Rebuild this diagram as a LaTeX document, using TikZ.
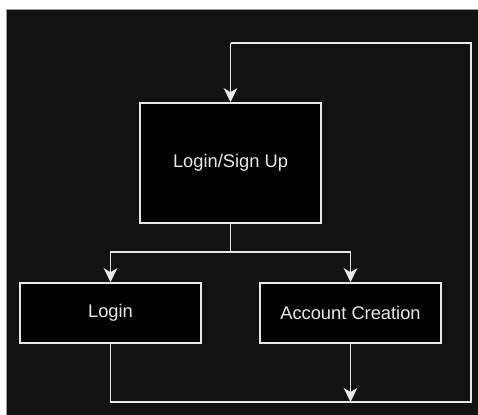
\documentclass[tikz,border=0pt]{standalone}
\usepackage{fontspec}
\setmainfont{Liberation Sans}
\usetikzlibrary{arrows.meta}
\definecolor{canvas}{HTML}{121212}
\definecolor{frame}{HTML}{9A9A9A}
\definecolor{ink}{HTML}{E8E8E8}
\tikzset{
  box/.style={draw=ink, fill=black, line width=1.6pt, minimum width=181pt,
    inner sep=0pt, text=ink, font=\fontsize{18.3}{21}\selectfont},
  conn/.style={draw=ink, line width=1.6pt},
  arr/.style={conn, -{Stealth[length=14pt, width=13.5pt, inset=4pt]}}
}
\begin{document}
\begin{tikzpicture}[x=1pt,y=-1pt]
  \useasboundingbox (0,0) rectangle (478,414);
  \fill[white] (0,0) rectangle (478,414);
  \draw[fill=canvas, draw=frame, line width=1pt] (6.5,9.5) rectangle (482,420);

  % boxes
  \node[box, minimum height=120pt] (auth) at (230.5,163) {Login/Sign Up};
  \node[box, minimum height=60pt] (login) at (110.5,313) {Login};
  \node[box, minimum height=60pt] (create) at (350.5,313) {Account Creation};

  % routing points
  \coordinate (split) at (230.5,252);
  \coordinate (join) at (350.5,402);
  \coordinate (br) at (471,402);
  \coordinate (tr) at (471,43);
  \coordinate (tl) at (230.5,43);

  % branch from the sign-up screen
  \draw[conn] (auth.south) -- (split);
  \draw[arr] (split) -| (login.north);
  \draw[arr] (split) -| (create.north);

  % return loop
  \draw[conn] (login.south) |- (br) -- (tr) -- (tl);
  \draw[arr] (tl) -- (auth.north);
  \draw[arr] (create.south) -- (join);
\end{tikzpicture}
\end{document}
